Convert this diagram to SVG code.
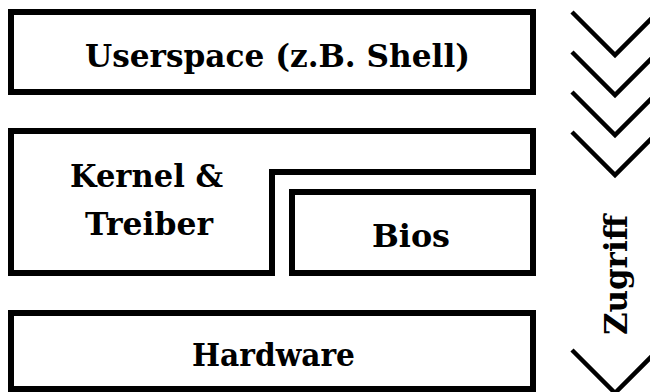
<svg xmlns="http://www.w3.org/2000/svg" width="650" height="392" viewBox="0 0 650 392">
<style>
.box{fill:#fff;stroke:#000;stroke-width:6;stroke-linejoin:miter}
.lbl{font-family:"DejaVu Serif","Liberation Serif",serif;font-weight:bold;font-size:32px;fill:#000;text-anchor:middle}
.chev{fill:none;stroke:#000;stroke-width:4.5;stroke-linejoin:miter}
</style>
<rect width="650" height="392" fill="#fff"/>
<g id="userspace">
<rect class="box" x="11" y="12" width="522" height="80"/>
<text class="lbl" x="277.5" y="67" textLength="385" lengthAdjust="spacingAndGlyphs">Userspace (z.B. Shell)</text>
</g>
<g id="kernel">
<path class="box" d="M11,131 H533 V172 H272 V273 H11 Z"/>
<text class="lbl" x="146.5" y="187" textLength="153" lengthAdjust="spacingAndGlyphs">Kernel &amp;</text>
<text class="lbl" x="149" y="235" textLength="128" lengthAdjust="spacingAndGlyphs">Treiber</text>
</g>
<g id="bios">
<rect class="box" x="292" y="192" width="241" height="81"/>
<text class="lbl" x="411" y="247" textLength="78" lengthAdjust="spacingAndGlyphs">Bios</text>
</g>
<g id="hardware">
<rect class="box" x="11" y="313" width="522" height="76"/>
<text class="lbl" x="273.5" y="366" textLength="163" lengthAdjust="spacingAndGlyphs">Hardware</text>
</g>
<g id="zugriff">
<path class="chev" d="M572,12 L615,55 L660,10"/>
<path class="chev" d="M572,52 L615,95 L660,50"/>
<path class="chev" d="M572,92 L615,135 L660,90"/>
<path class="chev" d="M572,132 L615,175 L660,130"/>
<path class="chev" d="M572,350 L615,393 L660,348"/>
<text class="lbl" transform="translate(627,275) rotate(-90)" x="0" y="0" textLength="120" lengthAdjust="spacingAndGlyphs">Zugriff</text>
</g>
</svg>
